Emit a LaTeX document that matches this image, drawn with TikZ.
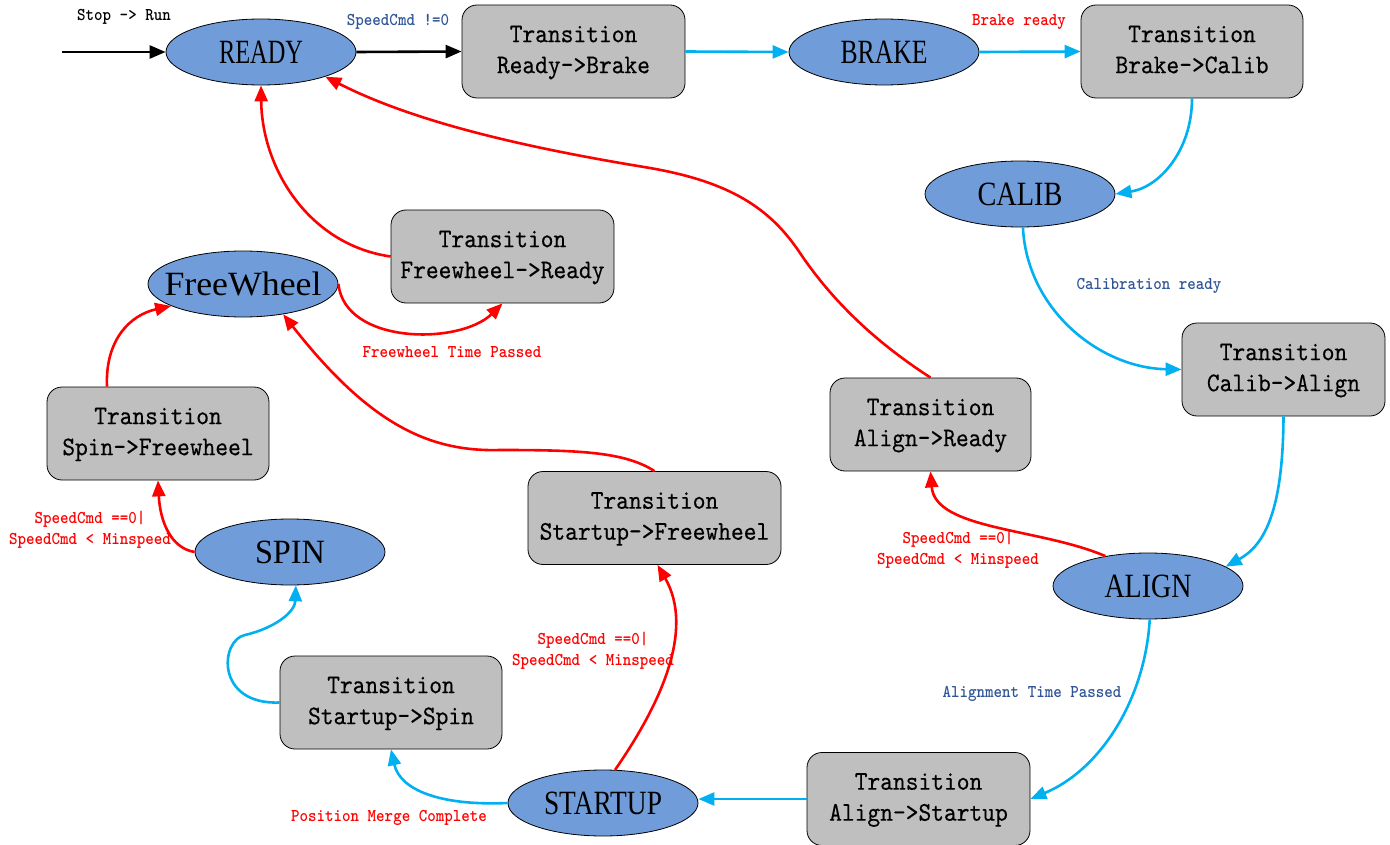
\documentclass[tikz,border=0pt]{standalone}
\usepackage{fontspec}
\usetikzlibrary{shapes.geometric,arrows.meta,calc}

% Fonts: typewriter serif for boxes and edge labels, condensed serif for states
\newfontfamily\boxfont{lmmono10-regular.otf}[FakeStretch=0.9,FakeBold=0.3]
\newfontfamily\tagfont{lmmonolt10-bold.otf}[FakeStretch=0.9]
\newfontfamily\statefont{Liberation Serif}
% state name squeezed to a given width; the outer box keeps the ellipse size fixed
\newcommand\stname[2]{\makebox[60pt][c]{\resizebox{#1}{\height}{\statefont\fontsize{34}{34}\selectfont #2}}}

\definecolor{statefill}{RGB}{112,157,217}
\definecolor{boxfill}{RGB}{191,191,191}
\definecolor{cyanline}{RGB}{0,176,240}
\definecolor{redline}{RGB}{255,0,0}
\definecolor{bluetext}{RGB}{47,85,151}

\tikzset{
  state/.style={ellipse, draw=black, line width=0.8pt, fill=statefill,
    minimum width=190pt, minimum height=66pt, inner sep=0pt},
  trans/.style={rectangle, rounded corners=15pt, draw=black, line width=0.8pt,
    fill=boxfill, minimum height=93pt, inner sep=0pt, align=center,
    font=\boxfont\fontsize{27}{31}\selectfont},
  tag/.style={font=\tagfont\fontsize{18}{21}\selectfont, align=center, inner sep=0pt},
  flow/.style={line width=2.6pt, -{Triangle[length=16pt,width=13pt]}},
  cflow/.style={flow, draw=cyanline, -{Triangle[length=16pt,width=13pt,fill=cyanline]}},
  rflow/.style={flow, draw=redline, -{Triangle[length=16pt,width=13pt,fill=redline]}},
}
\newcommand\twolines[2]{\raisebox{-2pt}{\begin{tabular}{@{}c@{}}#1\\#2\end{tabular}}}

\begin{document}
\begin{tikzpicture}[x=1pt, y=-1pt]
  \useasboundingbox (0,0) rectangle (1390,845);

  % states
  \node[state] (ready)     at (261,52)  {\stname{84pt}{READY}};
  \node[state] (brake)     at (884,52)  {\stname{87pt}{BRAKE}};
  \node[state] (calib)     at (1020,194) {\stname{85pt}{CALIB}};
  \node[state] (freewheel) at (243,284) {\stname{157pt}{FreeWheel}};
  \node[state] (spin)      at (290,552) {\stname{70pt}{SPIN}};
  \node[state] (align)     at (1148,586) {\stname{87pt}{ALIGN}};
  \node[state] (startup)   at (603,803) {\stname{118pt}{STARTUP}};

  % transitions
  \node[trans, minimum width=223pt] (trb) at (573.5,51.5) {\twolines{Transition}{Ready->Brake}};
  \node[trans, minimum width=222pt] (tbc) at (1192,51.5) {\twolines{Transition}{Brake->Calib}};
  \node[trans, minimum width=223pt] (tfr) at (502.5,256.5) {\twolines{Transition}{Freewheel->Ready}};
  \node[trans, minimum width=203pt] (tca) at (1283.5,369.5) {\twolines{Transition}{Calib->Align}};
  \node[trans, minimum width=201pt] (tar) at (930.5,424.5) {\twolines{Transition}{Align->Ready}};
  \node[trans, minimum width=222pt] (tsw) at (158,433.5) {\twolines{Transition}{Spin->Freewheel}};
  \node[trans, minimum width=253pt] (tsf) at (654.5,518) {\twolines{Transition}{Startup->Freewheel}};
  \node[trans, minimum width=222pt] (tss) at (391,702.5) {\twolines{Transition}{Startup->Spin}};
  \node[trans, minimum width=223pt] (tas) at (918.5,799) {\twolines{Transition}{Align->Startup}};

  % entry
  \coordinate (entry) at (62,52);
  \draw[flow] (entry) -- (ready.west);

  % main sequence
  \draw[flow] (ready.east) -- (trb.west);
  \draw[cflow] (trb.east) -- (brake.west);
  \draw[cflow] (brake.east) -- (tbc.west);
  \draw[cflow] (tbc.south) .. controls (1192,150) and (1160,187) .. (calib.east);
  \draw[cflow] (calib.-85) .. controls (1027,310) and (1100,368) .. (tca.west);
  \draw[cflow] (tca.south) .. controls (1283,510) and (1265,545) .. (align.14);
  \draw[cflow] (align.-87) .. controls (1145,700) and (1100,770) .. (tas.east);
  \draw[cflow] (tas.west) -- (tas.west -| startup.east);
  \draw[cflow] (startup.west) .. controls (440,806) and (400,790) .. (tss.south);
  \draw[cflow] (tss.west) .. controls (215,705) and (220,640) .. (245,635)
               .. controls (275,628) and (295,612) .. (spin.-80);

  % fall-back paths
  \draw[rflow] (spin.west) .. controls (170,548) and (160,520) .. (tsw.south);
  \draw[rflow] ($(tsw.north)+(-51,0)$) .. controls (105,340) and (130,315) .. (freewheel.-163);
  \draw[rflow] (freewheel.east) .. controls (345,345) and (460,345) .. (tfr.south);
  \draw[rflow] (tfr.west) .. controls (310,245) and (262,170) .. (ready.south);
  \draw[rflow] (startup.70) .. controls (660,705) and (695,630) .. ($(tsf.south)+(3,0)$);
  \draw[rflow] (tsf.north) .. controls (625,452) and (580,450) .. (500,450)
               .. controls (430,452) and (370,425) .. (freewheel.-37);
  \draw[rflow] (align.145) .. controls (1040,528) and (935,530) .. (tar.south);
  \draw[rflow] (tar.north) .. controls (880,345) and (835,305) .. (800,253)
               .. controls (770,208) and (730,182) .. (650,168)
               .. controls (540,150) and (420,125) .. (ready.-21);

  % edge labels
  \node[tag] (lstop)  at (124,17)  {Stop -> Run};
  \node[tag, text=bluetext] (lspeed) at (398,22) {SpeedCmd !=0};
  \node[tag, text=redline]  (lbrake) at (1019,22) {Brake ready};
  \node[tag, text=bluetext] (lcalib) at (1149,286) {Calibration ready};
  \node[tag, text=bluetext] (lalign) at (1032,694) {Alignment Time Passed};
  \node[tag, text=redline]  (lmerge) at (389,818) {Position Merge Complete};
  \node[tag, text=redline]  (lfree)  at (452,352) {Freewheel Time Passed};
  \node[tag, text=redline]  (lspin)  at (90,530)  {SpeedCmd ==0|\\SpeedCmd < Minspeed};
  \node[tag, text=redline]  (lstart) at (593,651) {SpeedCmd ==0|\\SpeedCmd < Minspeed};
  \node[tag, text=redline]  (lalig2) at (958,550) {SpeedCmd ==0|\\SpeedCmd < Minspeed};
\end{tikzpicture}
\end{document}
